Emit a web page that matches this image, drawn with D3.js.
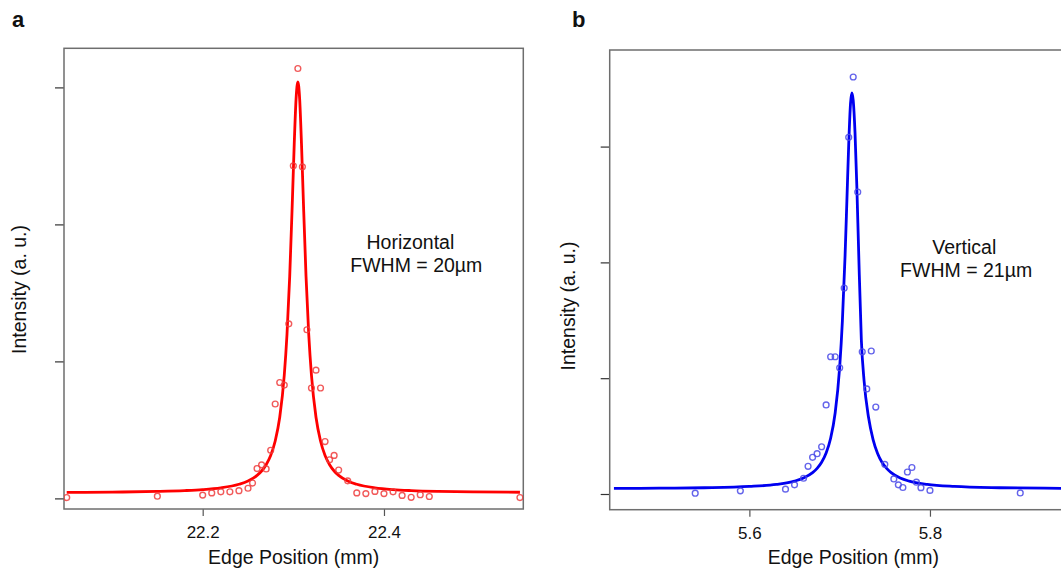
<!DOCTYPE html>
<html>
<head>
<meta charset="utf-8">
<script src="https://cdn.jsdelivr.net/npm/d3@7/dist/d3.min.js"></script>
<style>
  html, body { margin: 0; padding: 0; background: #fff; }
  svg { display: block; font-family: "Liberation Sans", Arial, sans-serif; }
</style>
</head>
<body>
<svg id="chart" width="1061" height="571"></svg>
<script>
// ---------- Data ----------
// Panel a: horizontal scan
const hEdgePos = [22.05, 22.15, 22.20, 22.21, 22.22, 22.23, 22.24, 22.25, 22.255, 22.26,
  22.265, 22.27, 22.275, 22.28, 22.285, 22.29, 22.295, 22.30, 22.305, 22.31,
  22.315, 22.32, 22.325, 22.33, 22.335, 22.34, 22.345, 22.35, 22.36, 22.37,
  22.38, 22.39, 22.40, 22.41, 22.42, 22.43, 22.44, 22.45, 22.55];
const hIntensity = [0.006, 0.016, 0.024, 0.040, 0.048, 0.048, 0.056, 0.074, 0.112, 0.218,
  0.245, 0.215, 0.351, 0.689, 0.846, 0.827, 1.274, 2.428, 3.138, 2.420,
  1.231, 0.806, 0.936, 0.806, 0.415, 0.282, 0.314, 0.207, 0.128, 0.040,
  0.035, 0.051, 0.035, 0.048, 0.022, 0.008, 0.027, 0.014, 0.006];
// fitted curve, panel a
const hFitPos = [22.05, 22.10, 22.15, 22.18, 22.20, 22.22, 22.24, 22.25, 22.26, 22.265,
  22.27, 22.275, 22.28, 22.285, 22.29, 22.293, 22.296, 22.299, 22.301, 22.303,
  22.305, 22.307, 22.309, 22.311, 22.314, 22.317, 22.32, 22.325, 22.33, 22.335,
  22.34, 22.345, 22.35, 22.36, 22.37, 22.39, 22.41, 22.43, 22.46, 22.50, 22.55];
const hFitVal = [0.044, 0.046, 0.051, 0.057, 0.064, 0.077, 0.103, 0.127, 0.168, 0.200,
  0.246, 0.313, 0.419, 0.592, 0.899, 1.196, 1.621, 2.185, 2.588, 2.913,
  3.04, 2.913, 2.588, 2.185, 1.621, 1.196, 0.899, 0.592, 0.419, 0.313,
  0.246, 0.200, 0.168, 0.127, 0.103, 0.077, 0.064, 0.057, 0.051, 0.047, 0.045];

// Panel b: vertical scan
const vEdgePos = [5.54, 5.59, 5.64, 5.65, 5.66, 5.665, 5.67, 5.675, 5.68, 5.685,
  5.69, 5.695, 5.70, 5.705, 5.71, 5.715, 5.72, 5.725, 5.73, 5.735,
  5.74, 5.75, 5.76, 5.765, 5.77, 5.775, 5.78, 5.785, 5.79, 5.80, 5.90];
const vIntensity = [0.007, 0.027, 0.042, 0.079, 0.136, 0.239, 0.317, 0.348, 0.408, 0.769,
  1.185, 1.185, 1.090, 1.779, 3.080, 3.601, 2.608, 1.228, 0.907, 1.235,
  0.751, 0.256, 0.130, 0.079, 0.056, 0.190, 0.229, 0.102, 0.055, 0.031, 0.009];
const vFitPos = [5.45, 5.50, 5.55, 5.60, 5.63, 5.65, 5.66, 5.67, 5.675, 5.68,
  5.685, 5.69, 5.695, 5.70, 5.703, 5.706, 5.708, 5.710, 5.712, 5.7135,
  5.715, 5.717, 5.719, 5.721, 5.724, 5.727, 5.732, 5.737, 5.742, 5.747,
  5.752, 5.757, 5.767, 5.777, 5.797, 5.827, 5.877, 5.927, 5.95];
const vFitVal = [0.048, 0.050, 0.054, 0.065, 0.083, 0.111, 0.138, 0.184, 0.221, 0.274,
  0.354, 0.481, 0.699, 1.096, 1.493, 2.062, 2.534, 3.015, 3.371, 3.464,
  3.40, 3.12, 2.66, 2.10, 1.33, 0.98, 0.66, 0.47, 0.350, 0.272,
  0.221, 0.184, 0.138, 0.111, 0.083, 0.065, 0.054, 0.050, 0.049];

// ticks
const hXTicks = [22.2, 22.4];
const vXTicks = [5.6, 5.8];
const yTicks = [0, 1, 2, 3];

// text
const panelLetters = ["a", "b"];
const xTitle = "Edge Position (mm)";
const yTitle = "Intensity (a. u.)";
const hNote = ["Horizontal", "FWHM = 20\u00b5m"];
const vNote = ["Vertical", "FWHM = 21\u00b5m"];

// ---------- Drawing ----------
const svg = d3.select("#chart");

function drawPanel(opt) {
  const x = d3.scaleLinear().domain(opt.xDomain).range([opt.left, opt.right]);
  const y = d3.scaleLinear().domain(opt.yDomain).range([opt.bottom, opt.top]);
  const g = svg.append("g");

  const clipId = "clip-" + opt.id;
  svg.append("clipPath").attr("id", clipId)
    .append("rect")
    .attr("x", opt.left).attr("y", opt.top)
    .attr("width", opt.right - opt.left).attr("height", opt.bottom - opt.top);

  // x axis
  const xa = g.append("g")
    .attr("transform", `translate(0,${opt.bottom})`)
    .call(d3.axisBottom(x).tickValues(opt.xTicks).tickSize(7).tickPadding(10)
      .tickFormat(d3.format(".1f")));
  xa.select(".domain").remove();
  xa.selectAll("line").attr("stroke", "#555").attr("stroke-width", 1.2);
  xa.selectAll("text").attr("font-size", 17).attr("fill", "#111")
    .attr("font-family", "Liberation Sans, Arial, sans-serif");

  // y axis (no labels)
  const ya = g.append("g")
    .attr("transform", `translate(${opt.left},0)`)
    .call(d3.axisLeft(y).tickValues(yTicks).tickSize(9).tickFormat(""));
  ya.select(".domain").remove();
  ya.selectAll("line").attr("stroke", "#333").attr("stroke-width", 1.2);

  // frame
  g.append("rect")
    .attr("x", opt.left).attr("y", opt.top)
    .attr("width", opt.right - opt.left).attr("height", opt.bottom - opt.top)
    .attr("fill", "none").attr("stroke", "#6e6e6e").attr("stroke-width", 1.5);

  // fit line
  const fit = opt.fitX.map((d, i) => [d, opt.fitY[i]]);
  g.append("path")
    .datum(fit)
    .attr("clip-path", `url(#${clipId})`)
    .attr("fill", "none")
    .attr("stroke", opt.lineColor)
    .attr("stroke-width", 2.8)
    .attr("stroke-linejoin", "round")
    .attr("d", d3.line().x(d => x(d[0])).y(d => y(d[1])).curve(d3.curveMonotoneX));

  // data points
  const pts = opt.px.map((d, i) => [d, opt.py[i]]);
  g.append("g").attr("clip-path", `url(#${clipId})`)
    .selectAll("circle").data(pts).join("circle")
    .attr("cx", d => x(d[0])).attr("cy", d => y(d[1]))
    .attr("r", 2.9)
    .attr("fill", "none")
    .attr("stroke", opt.pointColor)
    .attr("stroke-opacity", 0.85)
    .attr("stroke-width", 1.4);

  // axis titles
  g.append("text")
    .attr("x", (opt.left + opt.right) / 2).attr("y", 564)
    .attr("text-anchor", "middle").attr("font-size", 19.5).attr("fill", "#111")
    .text(xTitle);
  g.append("text")
    .attr("transform", `translate(${opt.yTitleX},${opt.yTitleY}) rotate(-90)`)
    .attr("text-anchor", "middle").attr("font-size", 19.5).attr("fill", "#111")
    .text(yTitle);

  // annotation
  g.append("text").attr("x", opt.note1X).attr("y", opt.note1Y)
    .attr("font-size", 19.5).attr("fill", "#111").text(opt.note[0]);
  g.append("text").attr("x", opt.note2X).attr("y", opt.note2Y)
    .attr("font-size", 19.5).attr("fill", "#111").text(opt.note[1]);

  // panel letter
  g.append("text").attr("x", opt.letterX).attr("y", 27)
    .attr("font-size", 22).attr("font-weight", "bold").attr("fill", "#111")
    .text(opt.letter);
}

drawPanel({
  id: "a", left: 64, right: 523.3, top: 48.3, bottom: 509,
  xDomain: [22.047, 22.5537], yDomain: [-0.0774, 3.2854],
  xTicks: hXTicks,
  fitX: hFitPos, fitY: hFitVal, px: hEdgePos, py: hIntensity,
  lineColor: "#ff0000", pointColor: "#ee3d3d",
  yTitleX: 26, yTitleY: 289.5,
  note: hNote, note1X: 366.5, note1Y: 249, note2X: 350.3, note2Y: 271.5,
  letter: panelLetters[0], letterX: 12
});

drawPanel({
  id: "b", left: 609.7, right: 1097, top: 50, bottom: 509.7,
  xDomain: [5.4453, 5.985], yDomain: [-0.1356, 3.834],
  xTicks: vXTicks,
  fitX: vFitPos, fitY: vFitVal, px: vEdgePos, py: vIntensity,
  lineColor: "#0000f0", pointColor: "#4a4ae8",
  yTitleX: 575, yTitleY: 306,
  note: vNote, note1X: 932.3, note1Y: 254, note2X: 900.1, note2Y: 277,
  letter: panelLetters[1], letterX: 572
});
</script>
</body>
</html>
